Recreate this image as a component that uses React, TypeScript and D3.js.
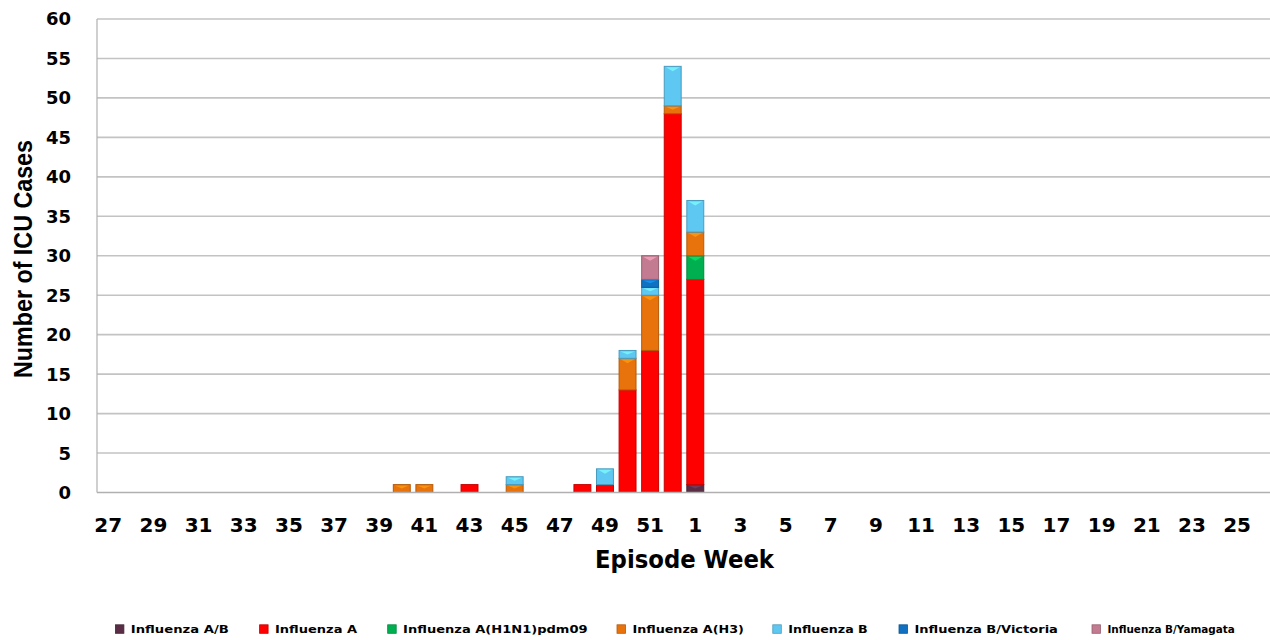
import React from "react";
import * as d3 from "d3";

// Episode weeks (27..52 then 1..26)
const weeks: number[] = [
  27, 28, 29, 30, 31, 32, 33, 34, 35, 36, 37, 38, 39, 40, 41, 42, 43, 44, 45, 46, 47, 48, 49, 50, 51, 52,
  1, 2, 3, 4, 5, 6, 7, 8, 9, 10, 11, 12, 13, 14, 15, 16, 17, 18, 19, 20, 21, 22, 23, 24, 25, 26,
];

const seriesNames: string[] = [
  "Influenza A/B",
  "Influenza A",
  "Influenza A(H1N1)pdm09",
  "Influenza A(H3)",
  "Influenza B",
  "Influenza B/Victoria",
  "Influenza B/Yamagata",
];

const seriesColors: string[] = ["#5a2d47", "#ff0000", "#00b050", "#e8730c", "#5ec8f2", "#1071c2", "#c27b90"];

//                      27 28 29 30 31 32 33 34 35 36 37 38 39 40 41 42 43 44 45 46 47 48 49 50  51  52  1 2 3 4 5 6 7 8 9 10 ...26
const fluAB: number[] = [0, 0, 0, 0, 0, 0, 0, 0, 0, 0, 0, 0, 0, 0, 0, 0, 0, 0, 0, 0, 0, 0, 0, 0, 0, 0, 1, 0, 0, 0, 0, 0, 0, 0, 0, 0, 0, 0, 0, 0, 0, 0, 0, 0, 0, 0, 0, 0, 0, 0, 0, 0];
const fluA: number[] = [0, 0, 0, 0, 0, 0, 0, 0, 0, 0, 0, 0, 0, 0, 0, 0, 1, 0, 0, 0, 0, 1, 1, 13, 18, 48, 26, 0, 0, 0, 0, 0, 0, 0, 0, 0, 0, 0, 0, 0, 0, 0, 0, 0, 0, 0, 0, 0, 0, 0, 0, 0];
const fluH1N1: number[] = [0, 0, 0, 0, 0, 0, 0, 0, 0, 0, 0, 0, 0, 0, 0, 0, 0, 0, 0, 0, 0, 0, 0, 0, 0, 0, 3, 0, 0, 0, 0, 0, 0, 0, 0, 0, 0, 0, 0, 0, 0, 0, 0, 0, 0, 0, 0, 0, 0, 0, 0, 0];
const fluH3: number[] = [0, 0, 0, 0, 0, 0, 0, 0, 0, 0, 0, 0, 0, 1, 1, 0, 0, 0, 1, 0, 0, 0, 0, 4, 7, 1, 3, 0, 0, 0, 0, 0, 0, 0, 0, 0, 0, 0, 0, 0, 0, 0, 0, 0, 0, 0, 0, 0, 0, 0, 0, 0];
const fluB: number[] = [0, 0, 0, 0, 0, 0, 0, 0, 0, 0, 0, 0, 0, 0, 0, 0, 0, 0, 1, 0, 0, 0, 2, 1, 1, 5, 4, 0, 0, 0, 0, 0, 0, 0, 0, 0, 0, 0, 0, 0, 0, 0, 0, 0, 0, 0, 0, 0, 0, 0, 0, 0];
const fluBVic: number[] = [0, 0, 0, 0, 0, 0, 0, 0, 0, 0, 0, 0, 0, 0, 0, 0, 0, 0, 0, 0, 0, 0, 0, 0, 1, 0, 0, 0, 0, 0, 0, 0, 0, 0, 0, 0, 0, 0, 0, 0, 0, 0, 0, 0, 0, 0, 0, 0, 0, 0, 0, 0];
const fluBYam: number[] = [0, 0, 0, 0, 0, 0, 0, 0, 0, 0, 0, 0, 0, 0, 0, 0, 0, 0, 0, 0, 0, 0, 0, 0, 3, 0, 0, 0, 0, 0, 0, 0, 0, 0, 0, 0, 0, 0, 0, 0, 0, 0, 0, 0, 0, 0, 0, 0, 0, 0, 0, 0];

const seriesValues: number[][] = [fluAB, fluA, fluH1N1, fluH3, fluB, fluBVic, fluBYam];

const yTicks: number[] = [0, 5, 10, 15, 20, 25, 30, 35, 40, 45, 50, 55, 60];
const xTickLabels: number[] = [27, 29, 31, 33, 35, 37, 39, 41, 43, 45, 47, 49, 51, 1, 3, 5, 7, 9, 11, 13, 15, 17, 19, 21, 23, 25];

// legend layout (styling only)
const legendX: number[] = [115.4, 259.6, 387.7, 617, 772.8, 899, 1092];
const legendW: number[] = [98, 82, 184.5, 111.5, 79.5, 143.5, 127.5];

const W = 1270;
const H = 640;
const plotLeft = 97;
const plotRight = 1271;
const plotTop = 19;
const plotBottom = 492.5;

export default function App() {
  const keys = weeks.map((_, i) => i);
  const x = d3.scaleBand<number>().domain(keys).range([plotLeft, plotRight]).paddingInner(0.25).paddingOuter(0.125);
  const y = d3.scaleLinear().domain([0, 60]).range([plotBottom, plotTop]);

  const rows = keys.map((i) => {
    const r: Record<string, number> = { idx: i };
    seriesNames.forEach((n, s) => (r[n] = seriesValues[s][i]));
    return r;
  });
  const stacked = d3.stack<Record<string, number>>().keys(seriesNames)(rows);

  const bold = "'DejaVu Sans', Verdana, sans-serif";

  return (
    <svg width={W} height={H} style={{ position: "absolute", left: 0, top: 0, background: "#fff" }}>
      <rect x={0} y={0} width={W} height={H} fill="#fff" />
      {/* gridlines */}
      {yTicks.map((t) =>
        t === 0 ? null : (
          <line key={t} x1={plotLeft} x2={W} y1={y(t)} y2={y(t)} stroke="#c3c3c3" strokeWidth={1.6} />
        )
      )}
      <line x1={plotLeft} x2={plotLeft} y1={plotTop} y2={plotBottom} stroke="#b0b0b0" strokeWidth={1.2} />
      {/* bars */}
      {stacked.map((layer, s) => {
        const c = seriesColors[s];
        const dark = d3.color(c)!.darker(0.7).formatHex();
        const light = d3.color(c)!.brighter(0.9).formatHex();
        return (
          <g key={seriesNames[s]}>
            {layer.map((d, i) => {
              if (d[1] - d[0] <= 0) return null;
              const x0 = x(i)!;
              const bw = x.bandwidth();
              const top = y(d[1]);
              const bot = y(d[0]);
              const h = bot - top;
              const depth = Math.min(5, h / 2);
              return (
                <g key={i}>
                  <rect x={x0} y={top} width={bw} height={h} fill={c} stroke={dark} strokeWidth={1} />
                  <polygon
                    points={`${x0 + 1.5},${top + 1} ${x0 + bw - 1.5},${top + 1} ${x0 + bw / 2},${top + depth}`}
                    fill={light}
                    opacity={0.7}
                  />
                </g>
              );
            })}
          </g>
        );
      })}
      <line x1={plotLeft} x2={W} y1={plotBottom} y2={plotBottom} stroke="#b0b0b0" strokeWidth={1.6} />
      {/* y ticks */}
      {yTicks.map((t) => (
        <text
          key={t}
          x={71}
          y={y(t)}
          dy="0.36em"
          textAnchor="end"
          fontFamily={bold}
          fontWeight="bold"
          fontSize={18}
          fill="#000"
        >
          {t}
        </text>
      ))}
      {/* x ticks */}
      {xTickLabels.map((w) => {
        const i = weeks.indexOf(w);
        return (
          <text
            key={w}
            x={x(i)! + x.bandwidth() / 2}
            y={532}
            textAnchor="middle"
            fontFamily={bold}
            fontWeight="bold"
            fontSize={20}
            fill="#000"
          >
            {w}
          </text>
        );
      })}
      <text
        x={684.5}
        y={568}
        textAnchor="middle"
        fontFamily={bold}
        fontWeight="bold"
        fontSize={24}
        textLength={179}
        lengthAdjust="spacingAndGlyphs"
      >
        Episode Week
      </text>
      <text
        transform="translate(32,259) rotate(-90)"
        textAnchor="middle"
        fontFamily="'Liberation Sans Narrow', 'Liberation Sans', Arial, sans-serif"
        fontWeight="bold"
        fontSize={26}
        textLength={238}
        lengthAdjust="spacingAndGlyphs"
      >
        Number of ICU Cases
      </text>
      {/* legend */}
      {seriesNames.map((n, s) => (
        <g key={n}>
          <rect
            x={legendX[s]}
            y={624.8}
            width={8.5}
            height={8.5}
            fill={seriesColors[s]}
            stroke={d3.color(seriesColors[s])!.darker(0.7).formatHex()}
            strokeWidth={0.8}
          />
          <text
            x={legendX[s] + 15.4}
            y={632.5}
            fontFamily={bold}
            fontWeight="bold"
            fontSize={10.5}
            textLength={legendW[s]}
            lengthAdjust="spacingAndGlyphs"
            fill="#000"
          >
            {n}
          </text>
        </g>
      ))}
    </svg>
  );
}
